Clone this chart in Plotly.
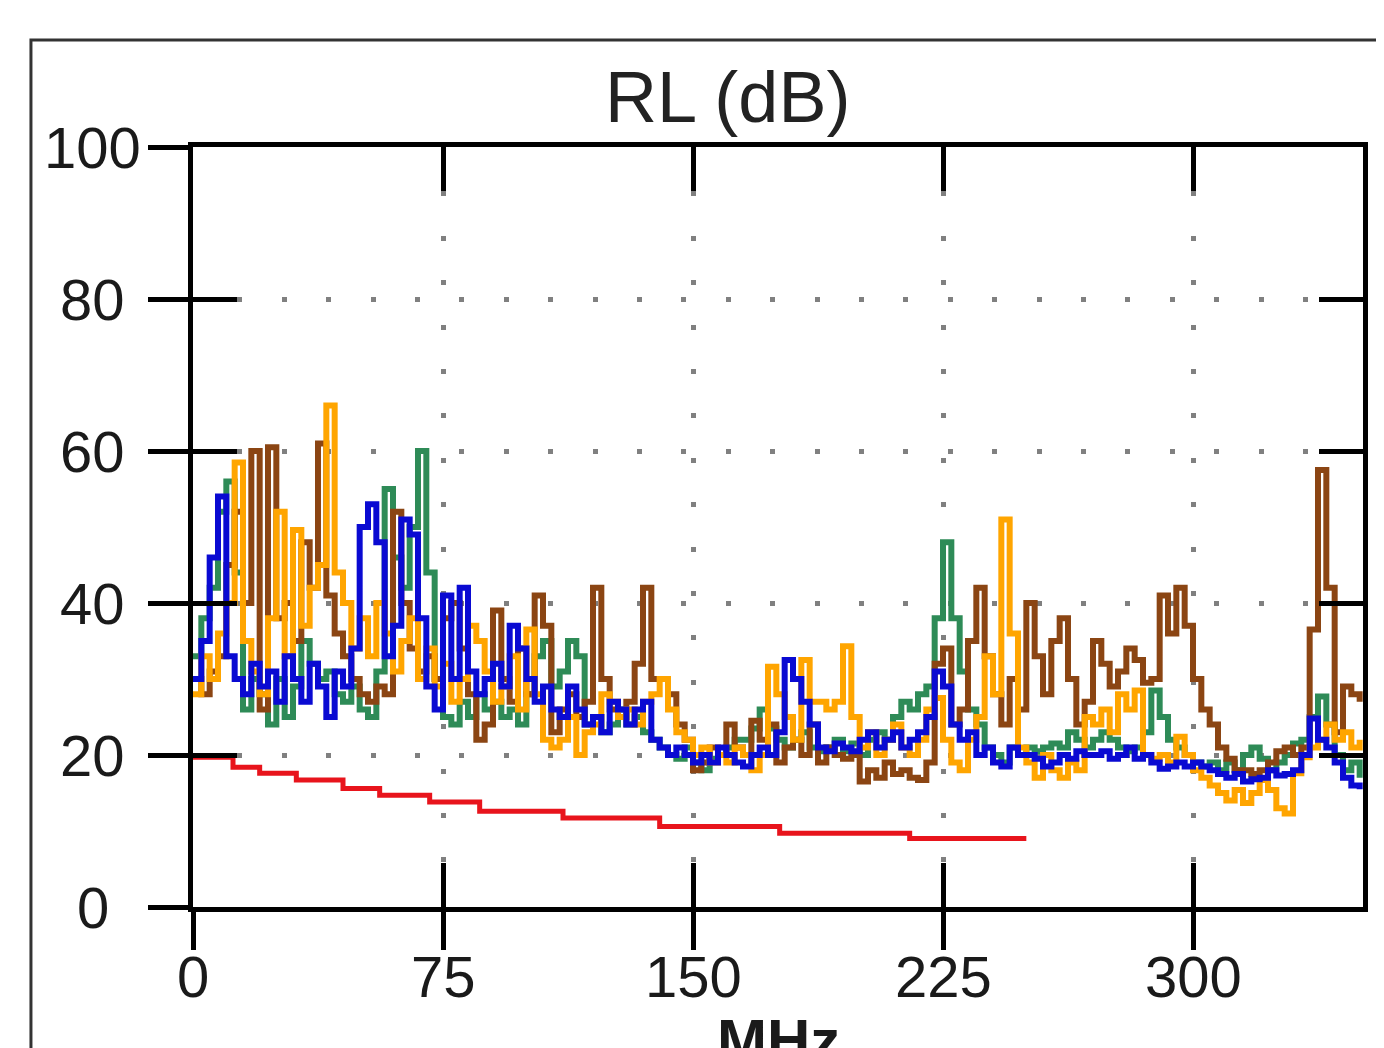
import plotly.graph_objects as go

# sweep frequencies (MHz)
FREQ_MHZ = [
    0, 2.5, 5, 7.5, 10, 12.5, 15, 17.5, 20, 22.5, 25, 27.5, 30, 32.5, 35, 37.5,
    40, 42.5, 45, 47.5, 50, 52.5, 55, 57.5, 60, 62.5, 65, 67.5, 70, 72.5, 75, 77.5,
    80, 82.5, 85, 87.5, 90, 92.5, 95, 97.5, 100, 102.5, 105, 107.5, 110, 112.5, 115, 117.5,
    120, 122.5, 125, 127.5, 130, 132.5, 135, 137.5, 140, 142.5, 145, 147.5, 150, 152.5, 155, 157.5,
    160, 162.5, 165, 167.5, 170, 172.5, 175, 177.5, 180, 182.5, 185, 187.5, 190, 192.5, 195, 197.5,
    200, 202.5, 205, 207.5, 210, 212.5, 215, 217.5, 220, 222.5, 225, 227.5, 230, 232.5, 235, 237.5,
    240, 242.5, 245, 247.5, 250, 252.5, 255, 257.5, 260, 262.5, 265, 267.5, 270, 272.5, 275, 277.5,
    280, 282.5, 285, 287.5, 290, 292.5, 295, 297.5, 300, 302.5, 305, 307.5, 310, 312.5, 315, 317.5,
    320, 322.5, 325, 327.5, 330, 332.5, 335, 337.5, 340, 342.5, 345, 347.5, 350,
]

RL_BLUE = [
    30, 35, 46, 54, 33, 30, 28, 32, 29, 31, 27, 33, 30, 27, 32, 29,
    25, 31, 29, 34, 50, 53, 48, 33, 37, 51, 49, 38, 29, 26, 41, 30,
    42, 31, 28, 30, 32, 29, 37, 34, 30, 27, 29, 26, 25, 29, 26, 24,
    25, 23, 27, 26, 24, 26, 27, 22, 21, 20, 21, 20, 19, 20, 19, 21,
    20, 19, 18.5, 20, 21, 20, 23, 32.5, 30, 27, 24, 21, 20.5, 21.5, 21, 20.5,
    22, 23, 21, 22, 23, 21, 22, 23, 25, 31, 29, 24, 22, 23, 20, 21,
    19, 18.5, 21, 20, 20, 19.5, 18.5, 19, 20, 19.5, 20.5, 20, 20, 20.5, 19.5, 20,
    21, 19.5, 20, 19, 18.2, 18.5, 19, 18.5, 19, 18.5, 18, 17.5, 17, 17.5, 16.5, 16.8,
    17, 18, 17.3, 17.5, 18, 20, 24.8, 22, 21, 19, 17, 16, 15.5,
]

RL_GREEN = [
    33, 38, 42, 52, 56, 44, 26, 30, 28, 24, 30, 25, 29, 35, 32, 30,
    31, 28, 27, 29, 26, 25, 31, 55, 46, 42, 50, 60, 44, 30, 25, 24,
    27, 25, 28, 26, 27, 25, 26, 24, 28, 33, 35, 29, 31, 35, 33, 24,
    25, 23, 24, 26, 24, 25, 23, 22, 21, 20, 19.5, 21, 19, 18, 19.5, 20,
    21, 22, 22, 23.5, 26, 23.5, 22, 21, 22, 23, 21, 20.5, 21, 22, 20.5, 21.5,
    20, 22, 23, 22, 25, 27, 26, 28, 29, 38, 48, 38, 31, 26, 24, 21,
    20, 19, 21, 20, 21, 20.5, 21, 21.5, 21, 23, 22, 21, 22, 23, 22, 21,
    20.5, 21, 23, 28.5, 25, 22, 21, 20, 19, 18.5, 19, 18, 19, 18, 20, 21,
    19.5, 18, 19, 20, 21.5, 22, 25, 27.7, 24, 20, 18, 19, 17,
]

RL_BROWN = [
    30, 28, 31, 33, 45, 52, 40, 60, 26, 60.5, 38, 40, 35, 48, 42, 61,
    41, 36, 33, 30, 28, 27, 29, 28, 52, 40, 34, 31, 33, 30, 38, 40,
    34, 28, 22, 24, 39, 30, 27, 34, 28, 41, 37, 23, 26, 28, 25, 27,
    42, 30, 26, 25, 27, 32, 42, 30, 30, 28, 24, 22, 18, 19, 21, 20,
    24, 21, 20, 24.5, 22, 24, 19, 21, 22, 20, 24, 19, 21, 20, 19.5, 20,
    16.5, 18, 17, 19, 17.5, 18, 17, 16.7, 19, 32, 34, 24, 26, 35, 42, 33,
    28, 24, 30, 26, 40, 33, 28, 35, 38, 30, 24, 27, 35, 32, 29, 31,
    34, 32.5, 29.5, 30, 41, 36, 42, 37, 30, 26, 24, 21, 19.5, 18, 18, 17.5,
    18, 19, 20.5, 21, 20, 21, 36.5, 57.5, 42, 23, 29, 28, 27,
]

RL_ORANGE = [
    28, 33, 30, 36, 40, 58.5, 35, 31, 28, 38, 52, 33, 49.6, 37, 42, 45,
    66, 44, 40, 34, 38, 33, 40, 36, 31, 35, 38, 30, 34, 29, 32, 27,
    30, 37, 35, 31, 27, 29, 33, 26, 36.5, 28, 22, 21, 22, 25, 20, 23,
    24, 28, 27, 25, 26, 24, 27, 28, 30, 26, 23, 22, 20, 21, 19, 20,
    19, 21, 20, 18, 20, 31.6, 28, 25, 22, 32.5, 27, 27, 26, 27, 34.3, 25,
    21, 23, 20, 22, 24, 21, 20, 22, 26, 27.5, 22, 19, 18, 22, 25, 33,
    28, 51, 36, 21, 19, 17, 20, 18, 17, 19, 18, 25, 24, 26, 23, 28,
    26, 28.5, 20, 19.5, 20, 19, 22.4, 20, 18, 17, 16, 15, 14, 15.4, 13.7, 15,
    16.7, 15.4, 13, 12.3, 17.6, 19.7, 21, 22, 24, 22, 23, 21, 22,
]

# limit line (stepped)
LIMIT_FREQ = [0, 12, 20, 31, 45, 56, 71, 86, 111, 140, 176, 215, 250]
LIMIT_RL = [19.7, 18.4, 17.6, 16.7, 15.6, 14.7, 13.8, 12.6, 11.7, 10.6, 9.7, 9.0, 9.0]

X_TICKS = [0, 75, 150, 225, 300]
Y_TICKS = [0, 20, 40, 60, 80, 100]

TICK_FONT = dict(family="Liberation Sans Narrow, Arial Narrow, Liberation Sans, Arial", size=58, color="#1a1a1a")

fig = go.Figure()

series = [
    ("green", RL_GREEN, "#2e8b57"),
    ("brown", RL_BROWN, "#8b4513"),
    ("orange", RL_ORANGE, "#ffa500"),
    ("blue", RL_BLUE, "#0a0ad2"),
]
for name, vals, col in series:
    fig.add_trace(go.Scatter(x=FREQ_MHZ, y=vals, name=name, mode="lines",
                             line=dict(color=col, width=6, shape="hv")))

fig.add_trace(go.Scatter(x=LIMIT_FREQ, y=LIMIT_RL, name="limit", mode="lines",
                         line=dict(color="#e8141c", width=5, shape="hv")))

# empty trace so the overlay axes (inner ticks) get drawn
fig.add_trace(go.Scatter(x=[], y=[], xaxis="x2", yaxis="y2", showlegend=False))

grid = dict(showgrid=True, gridcolor="#808080", gridwidth=5, griddash="5px,39.4px")

# page body has an 8px margin, so the figure is 8px smaller and shifted
fig.update_layout(
    width=1376, height=1040, autosize=False,
    margin=dict(l=185, r=21, t=139, b=141),
    paper_bgcolor="white", plot_bgcolor="white",
    showlegend=False,
    xaxis=dict(range=[0, 351], tickvals=X_TICKS, ticks="outside", ticklen=38, tickwidth=5,
               tickcolor="black", showline=True, linewidth=5, linecolor="black", mirror=True,
               showticklabels=False, zeroline=False, **grid),
    yaxis=dict(range=[0, 100], tickvals=Y_TICKS, ticks="outside", ticklen=40, tickwidth=5,
               tickcolor="black", showline=True, linewidth=5, linecolor="black", mirror=True,
               showticklabels=False, zeroline=False, **grid),
    xaxis2=dict(range=[0, 351], tickvals=X_TICKS, ticks="inside", ticklen=44, tickwidth=5,
                tickcolor="black", showline=True, linewidth=5, linecolor="black", mirror="ticks",
                showticklabels=False, showgrid=False, zeroline=False,
                overlaying="x", anchor="y2"),
    yaxis2=dict(range=[0, 100], tickvals=Y_TICKS, ticks="inside", ticklen=44, tickwidth=5,
                tickcolor="black", showline=True, linewidth=5, linecolor="black", mirror="ticks",
                showticklabels=False, showgrid=False, zeroline=False,
                overlaying="y", anchor="x2"),
)

# tick labels (centred, as in the original)
for v in Y_TICKS:
    fig.add_annotation(x=-0.0855, xref="paper", y=v, yref="y", text=str(v), showarrow=False,
                       xanchor="center", yanchor="middle", font=TICK_FONT)
for v in X_TICKS:
    fig.add_annotation(x=v, xref="x", y=-0.0921, yref="paper", text=str(v), showarrow=False,
                       xanchor="center", yanchor="middle", font=TICK_FONT)

fig.add_annotation(x=0.457, xref="paper", y=1.0658, yref="paper", text="RL (dB)", showarrow=False,
                   xanchor="center", yanchor="middle",
                   font=dict(family="Liberation Sans, Arial", size=72, color="#222222"))
fig.add_annotation(x=0.5, xref="paper", y=-0.175, yref="paper", text="<b>MHz</b>", showarrow=False,
                   xanchor="center", yanchor="middle",
                   font=dict(family="Liberation Sans, Arial", size=60, color="#1a1a1a"))

# outer panel frame
fig.add_shape(type="rect", xref="paper", yref="paper", x0=-0.1385, x1=1.5, y0=-0.5, y1=1.1408,
              line=dict(color="#333333", width=3), fillcolor="rgba(0,0,0,0)", layer="below")

fig.write_html("out.html")
